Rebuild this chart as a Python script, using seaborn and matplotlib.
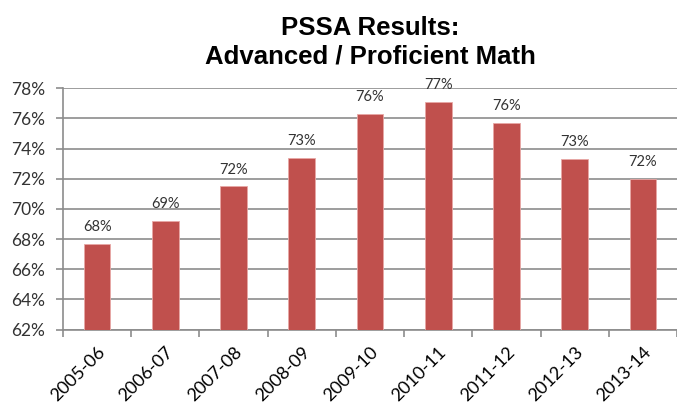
import matplotlib
matplotlib.use("Agg")
import matplotlib.pyplot as plt
import pandas as pd
import seaborn as sns
from matplotlib.ticker import FixedLocator, FuncFormatter

# Dados (percentual de alunos avançados/proficientes)
YEARS = ["2005-06", "2006-07", "2007-08", "2008-09", "2009-10",
         "2010-11", "2011-12", "2012-13", "2013-14"]
PCT = [67.7, 69.2, 71.5, 73.4, 76.3, 77.1, 75.7, 73.3, 72.0]
Y_TICKS = [62, 64, 66, 68, 70, 72, 74, 76, 78]

BAR_COLOR = "#C0504D"
GRID_COLOR = "#8C8C8C"
TEXT_COLOR = "#333333"

sns.set_theme(style="white")
plt.rcParams["font.family"] = ["Lato", "DejaVu Sans"]

df = pd.DataFrame({"year": YEARS, "pct": PCT})

fig = plt.figure(figsize=(6.77, 4.08), dpi=100)
ax = fig.add_axes([0.093, 0.192, 0.907, 0.592])

sns.barplot(data=df, x="year", y="pct", color=BAR_COLOR, saturation=1,
            width=0.39, edgecolor="#E8A8A6", linewidth=0.6, ax=ax, zorder=3)

ax.set_ylim(Y_TICKS[0], Y_TICKS[-1])
ax.set_xlim(-0.5, len(YEARS) - 0.5)
ax.yaxis.set_major_locator(FixedLocator(Y_TICKS))
ax.yaxis.set_major_formatter(FuncFormatter(lambda v, _: f"{v:.0f}%"))
ax.yaxis.grid(True, color=GRID_COLOR, linewidth=1.2, zorder=0)
ax.set_axisbelow(True)

# rótulos de valor acima das barras
for i, v in enumerate(PCT):
    ax.annotate(f"{v:.0f}%", (i, v), xytext=(0, 7), textcoords="offset points",
                ha="center", va="bottom", fontsize=10.5, color=TEXT_COLOR)

# ticks do eixo x nas divisões entre categorias
ax.set_xticks(range(len(YEARS)))
ax.set_xticklabels(YEARS, rotation=45, ha="right", rotation_mode="anchor",
                   fontsize=13, color="black")
ax.set_xticks([i - 0.5 for i in range(len(YEARS) + 1)], minor=True)
ax.tick_params(axis="x", which="major", length=0, pad=10)
ax.tick_params(axis="x", which="minor", length=5, width=1.2, color=GRID_COLOR,
               direction="out", bottom=True)
ax.tick_params(axis="y", length=5, width=1.2, color=GRID_COLOR, direction="out",
               left=True, labelsize=12.5, labelcolor=TEXT_COLOR, pad=8)

for side in ["top", "right"]:
    ax.spines[side].set_visible(False)
for side in ["left", "bottom"]:
    ax.spines[side].set_color(GRID_COLOR)
    ax.spines[side].set_linewidth(1.2)

ax.set_xlabel("")
ax.set_ylabel("")
ax.set_title("PSSA Results:\nAdvanced / Proficient Math",
             fontsize=18.5, fontweight="bold", family="Liberation Sans",
             color="black", pad=18, linespacing=1.2)

fig.savefig("out.png", dpi=100)
